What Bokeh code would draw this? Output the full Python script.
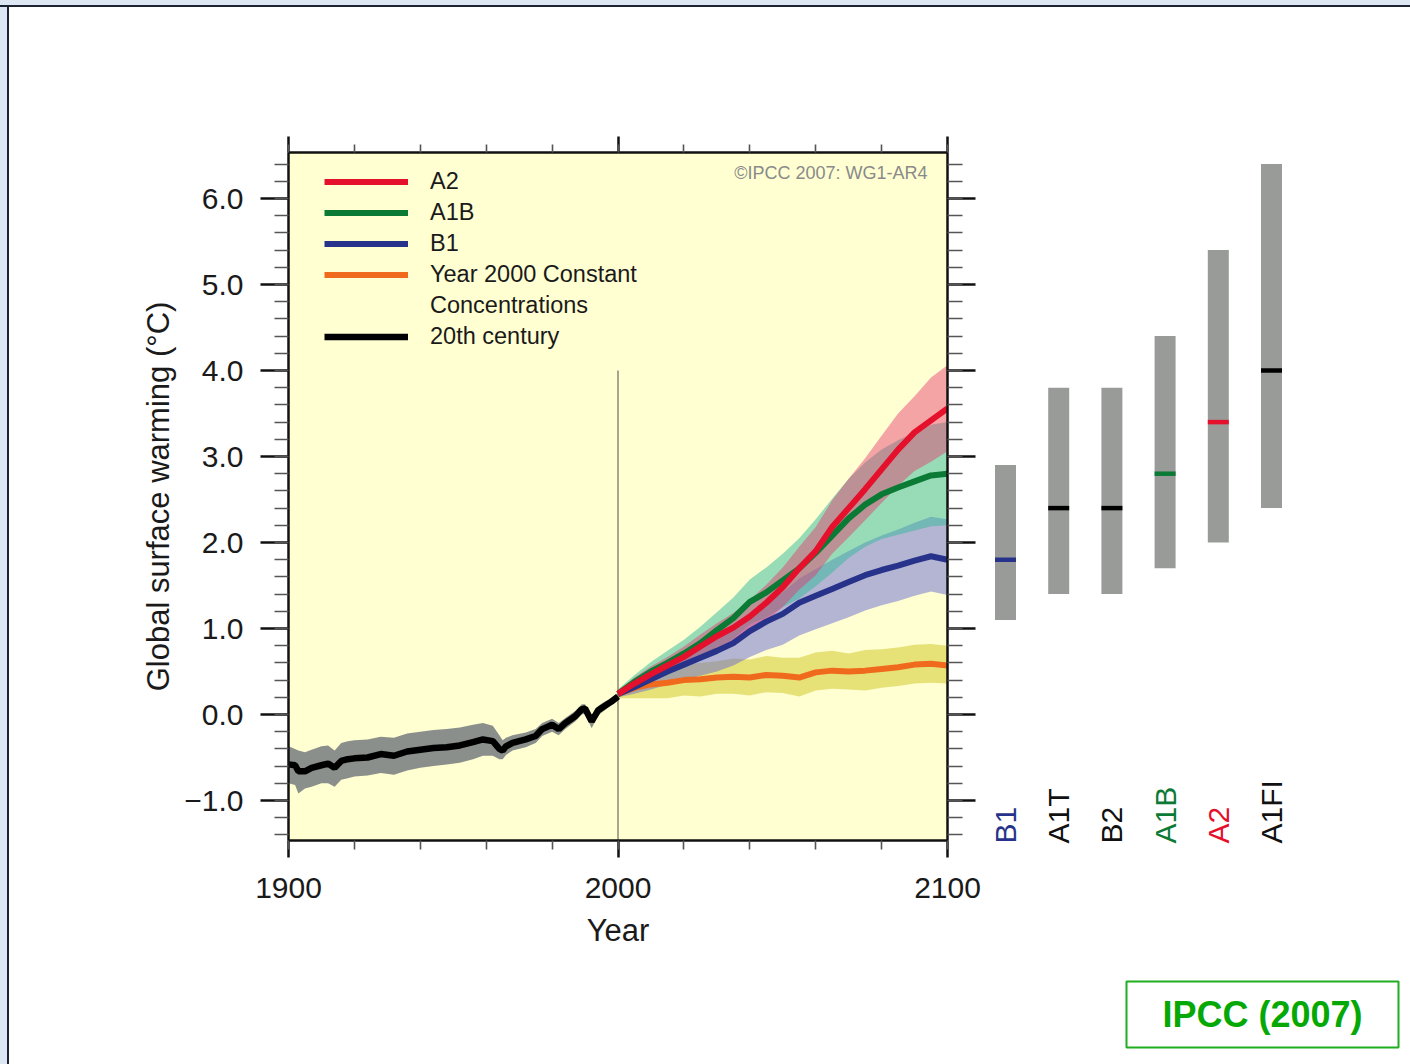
import math
from bokeh.plotting import figure
from bokeh.models import (Range1d, LinearAxis, SingleIntervalTicker, Legend, LegendItem,
                          Label, BoxAnnotation, CustomJSTickFormatter, CustomLabelingPolicy, Div)
from bokeh.layouts import row, column
from bokeh.embed import file_html
from bokeh.resources import INLINE
from bokeh.core.properties import value

# ---------------- data ----------------
hist_years = [1900, 1902, 1903, 1905, 1907, 1910, 1912, 1914, 1916, 1918, 1920, 1924, 1928, 1932,
              1936, 1940, 1944, 1948, 1952, 1956, 1959, 1962, 1964, 1965, 1966, 1968, 1972, 1975,
              1977, 1980, 1982, 1984, 1987, 1989, 1990, 1992, 1994, 1996, 1998, 2000]
hist_mean = [-0.58, -0.59, -0.66, -0.66, -0.62, -0.59, -0.57, -0.62, -0.54, -0.52, -0.51, -0.50, -0.46, -0.48,
             -0.43, -0.41, -0.39, -0.38, -0.36, -0.32, -0.29, -0.31, -0.40, -0.42, -0.37, -0.33, -0.29, -0.25,
             -0.17, -0.12, -0.17, -0.10, -0.02, 0.06, 0.07, -0.08, 0.05, 0.10, 0.15, 0.21]
hist_low = [-0.80, -0.82, -0.92, -0.86, -0.84, -0.80, -0.80, -0.84, -0.76, -0.74, -0.72, -0.71, -0.68, -0.70,
            -0.65, -0.62, -0.60, -0.58, -0.56, -0.52, -0.48, -0.48, -0.52, -0.52, -0.47, -0.42, -0.38, -0.33,
            -0.25, -0.20, -0.24, -0.17, -0.08, 0.00, 0.01, -0.16, -0.01, 0.05, 0.11, 0.17]
hist_high = [-0.37, -0.40, -0.42, -0.44, -0.41, -0.37, -0.36, -0.42, -0.33, -0.31, -0.30, -0.29, -0.26, -0.27,
             -0.22, -0.20, -0.18, -0.17, -0.15, -0.12, -0.10, -0.13, -0.24, -0.30, -0.27, -0.24, -0.21, -0.17,
             -0.10, -0.05, -0.10, -0.04, 0.04, 0.12, 0.12, -0.02, 0.10, 0.15, 0.19, 0.25]

proj_years = [2000, 2005, 2010, 2015, 2020, 2025, 2030, 2035, 2040, 2045, 2050,
              2055, 2060, 2065, 2070, 2075, 2080, 2085, 2090, 2095, 2100]
a2_mean = [0.24, 0.36, 0.47, 0.57, 0.67, 0.79, 0.91, 1.01, 1.14, 1.30, 1.48,
           1.70, 1.90, 2.18, 2.40, 2.62, 2.85, 3.08, 3.28, 3.42, 3.56]
a2_low = [0.20, 0.29, 0.38, 0.47, 0.55, 0.65, 0.76, 0.84, 0.95, 1.09, 1.25,
          1.45, 1.62, 1.87, 2.06, 2.26, 2.46, 2.66, 2.83, 2.94, 3.06]
a2_high = [0.28, 0.43, 0.56, 0.67, 0.79, 0.93, 1.06, 1.18, 1.33, 1.51, 1.71,
           1.95, 2.18, 2.49, 2.74, 2.98, 3.24, 3.50, 3.70, 3.92, 4.06]
a1b_mean = [0.24, 0.38, 0.50, 0.60, 0.71, 0.83, 0.98, 1.12, 1.31, 1.42, 1.56,
            1.70, 1.88, 2.08, 2.28, 2.44, 2.56, 2.64, 2.71, 2.78, 2.80]
a1b_low = [0.19, 0.30, 0.39, 0.46, 0.55, 0.64, 0.77, 0.88, 1.05, 1.13, 1.25,
           1.35, 1.49, 1.65, 1.82, 1.95, 2.04, 2.09, 2.14, 2.19, 2.20]
a1b_high = [0.29, 0.46, 0.61, 0.74, 0.87, 1.02, 1.19, 1.36, 1.57, 1.71, 1.87,
            2.05, 2.27, 2.51, 2.74, 2.93, 3.08, 3.19, 3.28, 3.37, 3.40]
b1_mean = [0.24, 0.32, 0.41, 0.50, 0.58, 0.66, 0.74, 0.83, 0.97, 1.08, 1.17,
           1.30, 1.38, 1.46, 1.54, 1.62, 1.68, 1.73, 1.79, 1.84, 1.80]
b1_low = [0.20, 0.24, 0.29, 0.35, 0.40, 0.45, 0.50, 0.57, 0.67, 0.75, 0.81,
          0.92, 0.99, 1.06, 1.13, 1.21, 1.27, 1.32, 1.38, 1.43, 1.39]
b1_high = [0.28, 0.38, 0.49, 0.60, 0.70, 0.80, 0.90, 1.01, 1.17, 1.30, 1.42,
           1.58, 1.69, 1.80, 1.90, 2.00, 2.08, 2.15, 2.23, 2.30, 2.27]
const_mean = [0.24, 0.31, 0.35, 0.37, 0.40, 0.41, 0.43, 0.44, 0.43, 0.46, 0.45,
              0.43, 0.49, 0.51, 0.50, 0.51, 0.53, 0.55, 0.58, 0.59, 0.57]
const_low = [0.19, 0.19, 0.19, 0.19, 0.22, 0.21, 0.24, 0.24, 0.22, 0.26, 0.25,
             0.21, 0.28, 0.30, 0.29, 0.28, 0.31, 0.33, 0.36, 0.37, 0.36]
const_high = [0.29, 0.42, 0.50, 0.55, 0.58, 0.60, 0.62, 0.65, 0.64, 0.68, 0.66,
              0.66, 0.72, 0.74, 0.71, 0.75, 0.76, 0.78, 0.81, 0.82, 0.80]

bar_labels = ["B1", "A1T", "B2", "A1B", "A2", "A1FI"]
bar_low = [1.1, 1.4, 1.4, 1.7, 2.0, 2.4]
bar_high = [2.9, 3.8, 3.8, 4.4, 5.4, 6.4]
bar_best = [1.8, 2.4, 2.4, 2.8, 3.4, 4.0]

split_year = 2000
split_top = 4.0

# ---------------- layout constants (page pixels) ----------------
PAGE_W, PAGE_H = 1410, 1064
EDGE_X, EDGE_Y = 9, 7                      # slide edge strips
FR_L, FR_T, FR_W, FR_H = 288, 152, 659, 688
FIG1_R = 987                               # page x where the right panel starts
FIG1_W = FIG1_R - EDGE_X
FIG2_W = PAGE_W - FIG1_R
FIG_H = PAGE_H - EDGE_Y
PX_PER_DEG = 86.0
ZERO_PX = 714.0
Y_END = (ZERO_PX - FR_T) / PX_PER_DEG
Y_START = (ZERO_PX - (FR_T + FR_H)) / PX_PER_DEG

BAR_PITCH = 53.2
FIRST_BAR_PX = 1005.0
X2_START = -(FIRST_BAR_PX - FIG1_R) / BAR_PITCH
X2_END = X2_START + FIG2_W / BAR_PITCH


def yv(py):
    return (ZERO_PX - py) / PX_PER_DEG


def x2(px):
    return X2_START + (px - FIG1_R) / BAR_PITCH


def x1(px):
    return 1900 + (px - FR_L) * 200.0 / FR_W


FONT = "Liberation Sans"
RED, GREEN, BLUE, ORANGE = "#e5102b", "#0b7a35", "#27338a", "#f06a1e"
SLIDE_BG, SLIDE_LINE = "#dde7f3", "#1b2430"

# ---------------- main figure ----------------
p = figure(width=FIG1_W, height=FIG_H, x_range=Range1d(1900, 2100), y_range=Range1d(Y_START, Y_END),
           x_axis_type=None, y_axis_type=None, toolbar_location=None, output_backend="svg",
           min_border_left=FR_L - EDGE_X, min_border_right=FIG1_R - FR_L - FR_W, min_border_top=FR_T - EDGE_Y,
           min_border_bottom=PAGE_H - FR_T - FR_H)
p.background_fill_color = "#ffffd2"
p.border_fill_color = "white"
p.outline_line_color = None

hide_all = CustomLabelingPolicy(code="for (const i of indices) { indices.unset(i) }\nreturn indices")


def style_axis(ax, tick_out, minor_out, labels=True):
    ax.axis_line_width = 2.5
    ax.axis_line_color = "#111111"
    ax.major_tick_line_width = 2.5
    ax.major_tick_line_color = "#111111"
    ax.major_tick_in = 0
    ax.major_tick_out = tick_out
    ax.minor_tick_in = 0
    ax.minor_tick_out = minor_out
    ax.minor_tick_line_color = "#555555"
    ax.minor_tick_line_width = 1.6
    ax.major_label_text_font = FONT
    ax.major_label_text_color = "#1a1a1a"
    ax.axis_label_text_font = FONT
    ax.axis_label_text_font_style = "normal"
    ax.axis_label_text_color = "#1a1a1a"
    ax.axis_label_text_font_size = "31px"
    if not labels:
        ax.major_label_text_font_size = "1px"
        ax.major_label_standoff = 0
        ax.major_label_policy = hide_all


yfmt = CustomJSTickFormatter(code="return (tick < -1e-9 ? '\u2212' : '') + Math.abs(tick).toFixed(1);")

left = LinearAxis(ticker=SingleIntervalTicker(interval=1, num_minor_ticks=5), formatter=yfmt,
                  axis_label="Global surface warming (°C)")
style_axis(left, 28, 14)
left.major_label_text_font_size = "30px"
left.major_label_standoff = 17
left.axis_label_standoff = 5
p.add_layout(left, "left")

right = LinearAxis(ticker=SingleIntervalTicker(interval=1, num_minor_ticks=5))
style_axis(right, 28, 15, labels=False)
p.add_layout(right, "right")

bottom = LinearAxis(ticker=SingleIntervalTicker(interval=100, num_minor_ticks=5), axis_label="Year")
style_axis(bottom, 17, 9)
bottom.major_label_text_font_size = "30px"
bottom.major_label_standoff = 20
bottom.axis_label_standoff = 12
p.add_layout(bottom, "below")

top = LinearAxis(ticker=SingleIntervalTicker(interval=100, num_minor_ticks=5))
style_axis(top, 16, 8, labels=False)
p.add_layout(top, "above")

# bands
p.varea(x=proj_years, y1=const_low, y2=const_high, fill_color="#cdc51c", fill_alpha=0.5)
p.varea(x=proj_years, y1=b1_low, y2=b1_high, fill_color="#6969d4", fill_alpha=0.5)
p.varea(x=proj_years, y1=a1b_low, y2=a1b_high, fill_color="#31b99c", fill_alpha=0.5)
p.varea(x=proj_years, y1=a2_low, y2=a2_high, fill_color="#e6356f", fill_alpha=0.45)
p.varea(x=hist_years, y1=hist_low, y2=hist_high, fill_color="#8a8f8b", fill_alpha=1.0)

# split line
p.segment(x0=[split_year], y0=[Y_START], x1=[split_year], y1=[split_top], line_color="#77776a", line_width=1.3)

# lines
LW = 6
r_const = p.line(proj_years, const_mean, line_color=ORANGE, line_width=LW)
r_b1 = p.line(proj_years, b1_mean, line_color=BLUE, line_width=LW)
r_a1b = p.line(proj_years, a1b_mean, line_color=GREEN, line_width=LW)
r_a2 = p.line(proj_years, a2_mean, line_color=RED, line_width=LW)
r_hist = p.line(hist_years, hist_mean, line_color="black", line_width=6.5)
r_blank = p.line(proj_years, const_mean, line_alpha=0)

legend = Legend(items=[
    LegendItem(label="A2", renderers=[r_a2]),
    LegendItem(label="A1B", renderers=[r_a1b]),
    LegendItem(label="B1", renderers=[r_b1]),
    LegendItem(label="Year 2000 Constant", renderers=[r_const]),
    LegendItem(label="Concentrations", renderers=[r_blank]),
    LegendItem(label="20th century", renderers=[r_hist]),
])
ROW_H = 31
legend.glyph_width = 84
legend.glyph_height = ROW_H
legend.label_height = ROW_H
legend.label_standoff = 22
legend.spacing = 0
legend.padding = 0
legend.margin = 0
legend.border_line_alpha = 0
legend.background_fill_alpha = 0
legend.label_text_font = FONT
legend.label_text_font_size = "23.5px"
legend.label_text_color = "#1a1a1a"
legend.location = (324 - FR_L, FR_H - 14 - 6 * ROW_H)
p.add_layout(legend)

p.add_layout(Label(x=x1(932), y=yv(172), text="©IPCC  2007: WG1-AR4", text_align="right",
                   text_baseline="middle", text_font=FONT, text_font_size="18px",
                   text_color="#8a8a8a"))

# ---------------- right panel: likely ranges ----------------
q = figure(width=FIG2_W, height=FIG_H, x_range=Range1d(X2_START, X2_END),
           y_range=Range1d(yv(PAGE_H), yv(EDGE_Y)),
           x_axis_type=None, y_axis_type=None, toolbar_location=None, output_backend="svg",
           min_border=0, min_border_left=0, min_border_right=0, min_border_top=0, min_border_bottom=0)
q.outline_line_color = None
q.background_fill_color = "white"
q.border_fill_color = "white"
for fig in (p, q):
    if "frame_align" in fig.properties():
        fig.frame_align = False

idx = list(range(len(bar_labels)))
best_colors = [BLUE, "black", "black", GREEN, RED, "black"]
label_colors = [BLUE, "#111111", "#111111", GREEN, RED, "#111111"]
BAR_W = 21 / BAR_PITCH
q.vbar(x=idx, bottom=bar_low, top=bar_high, width=BAR_W, fill_color="#999b99", line_color=None)
q.rect(x=idx, y=bar_best, width=BAR_W, height=4.5, height_units="screen", fill_color=best_colors, line_color=None)
q.text(x=idx, y=[yv(843)] * len(idx), text=bar_labels, angle=math.pi / 2, text_align="left",
       text_baseline="middle", text_font=value(FONT), text_font_size="30px", text_color=label_colors)

q.add_layout(BoxAnnotation(left=x2(1126), right=x2(1398), top=yv(981), bottom=yv(1047),
                           fill_alpha=0, line_color="#1fae1f", line_alpha=1.0, line_width=2))
q.add_layout(Label(x=x2(1262), y=yv(1014), text="IPCC (2007)", text_align="center", text_baseline="middle",
                   text_font=FONT, text_font_style="bold", text_font_size="36px", text_color="#05a805"))

# slide edges as plain HTML strips
top_strip = Div(text="", width=PAGE_W, height=EDGE_Y, margin=0,
                styles={"background": f"linear-gradient(to bottom, {SLIDE_BG} 0px, {SLIDE_BG} 5px, "
                                      f"{SLIDE_LINE} 5px, {SLIDE_LINE} 7px)"})
left_strip = Div(text="", width=EDGE_X, height=FIG_H, margin=0,
                 styles={"background": f"linear-gradient(to right, {SLIDE_BG} 0px, {SLIDE_BG} 7px, "
                                       f"{SLIDE_LINE} 7px, {SLIDE_LINE} 9px)"})

layout = column(top_strip, row(left_strip, p, q, spacing=0), spacing=0)
open("out.html", "w").write(file_html(layout, INLINE))
